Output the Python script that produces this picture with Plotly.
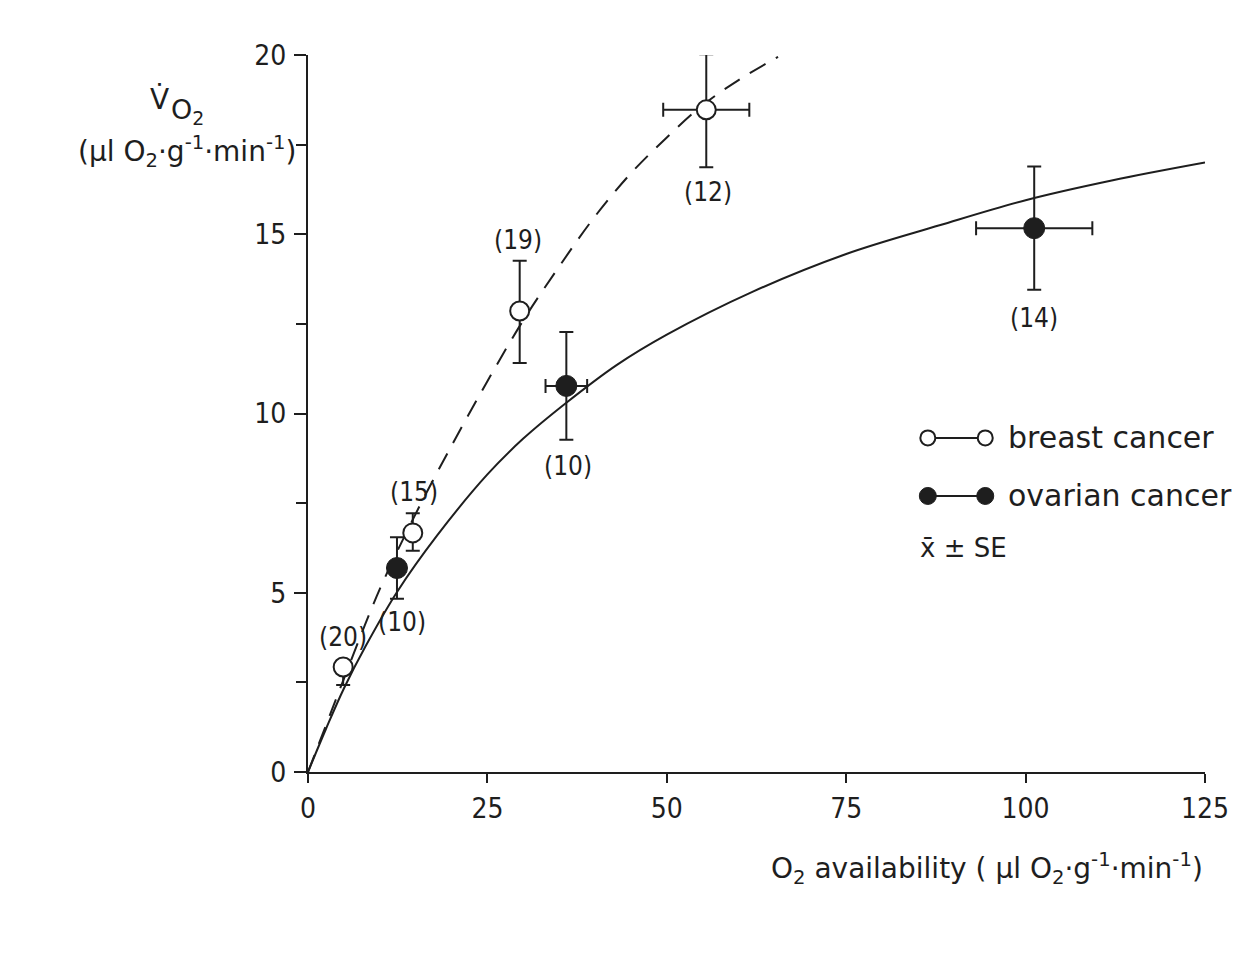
import plotly.graph_objects as go

# ---- data ----
breast_x = [4.9, 14.6, 29.5, 55.5]
breast_y = [2.93, 6.67, 12.86, 18.47]
breast_ey_plus = [0.0, 0.55, 1.4, 1.55]
breast_ey_minus = [0.5, 0.5, 1.45, 1.6]
breast_ex = [0.0, 0.0, 0.0, 6.0]
breast_n = ["(20)", "(15)", "(19)", "(12)"]

ovar_x = [12.4, 36.0, 101.2]
ovar_y = [5.69, 10.77, 15.17]
ovar_ey = [0.86, 1.5, 1.72]
ovar_ex = [0.0, 2.9, 8.1]
ovar_n = ["(10)", "(10)", "(14)"]

# fitted curves
solid_x = [0, 2.5, 5, 8, 12.5, 18, 25, 30, 36, 43, 50, 62, 75, 88, 100, 112, 125]
solid_y = [0, 1.2, 2.33, 3.5, 5.05, 6.6, 8.3, 9.3, 10.3, 11.35, 12.2, 13.4, 14.45, 15.25, 15.95, 16.5, 17.0]
dash_x = [0, 2.5, 5, 10, 15, 20, 25, 30, 35, 40, 45, 50, 55, 60, 65.5]
dash_y = [0, 1.3, 2.6, 5.1, 7.2, 9.1, 10.9, 12.6, 14.1, 15.5, 16.7, 17.7, 18.6, 19.3, 19.95]

x_ticks = [0, 25, 50, 75, 100, 125]
y_ticks = [0, 5, 10, 15, 20]

# label offsets in pixels (layout, not data)
breast_lab_shift = [(0, 30), (1, 41), (-2, 71), (2, -82)]
ovar_lab_shift = [(5, -54), (2, -80), (0, -90)]

FONT = "DejaVu Sans Condensed, Liberation Sans Narrow, DejaVu Sans, sans-serif"
FONT2 = "DejaVu Sans, sans-serif"
INK = "#1e1e1e"

fig = go.Figure()

fig.add_trace(go.Scatter(x=solid_x, y=solid_y, mode="lines", line=dict(color=INK, width=2, shape="spline"),
                         hoverinfo="skip", showlegend=False))
fig.add_trace(go.Scatter(x=dash_x, y=dash_y, mode="lines",
                         line=dict(color=INK, width=2, dash="18px,12px", shape="spline"),
                         hoverinfo="skip", showlegend=False))

fig.add_trace(go.Scatter(
    x=breast_x, y=breast_y, mode="markers",
    marker=dict(symbol="circle", size=19, color="white", line=dict(color=INK, width=2)),
    error_y=dict(type="data", symmetric=False, array=breast_ey_plus, arrayminus=breast_ey_minus,
                 color=INK, thickness=2, width=7),
    error_x=dict(type="data", array=breast_ex, color=INK, thickness=2, width=7),
    showlegend=False))

fig.add_trace(go.Scatter(
    x=ovar_x, y=ovar_y, mode="markers",
    marker=dict(symbol="circle", size=21, color=INK, line=dict(color=INK, width=1)),
    error_y=dict(type="data", array=ovar_ey, color=INK, thickness=2, width=7),
    error_x=dict(type="data", array=ovar_ex, color=INK, thickness=2, width=7),
    showlegend=False))

for x, y, t, (dx, dy) in zip(breast_x, breast_y, breast_n, breast_lab_shift):
    fig.add_annotation(x=x, y=y, text=t, showarrow=False, xshift=dx, yshift=dy,
                       xanchor="center", yanchor="middle",
                       font=dict(family=FONT, size=26, color=INK))
for x, y, t, (dx, dy) in zip(ovar_x, ovar_y, ovar_n, ovar_lab_shift):
    fig.add_annotation(x=x, y=y, text=t, showarrow=False, xshift=dx, yshift=dy,
                       xanchor="center", yanchor="middle",
                       font=dict(family=FONT, size=26, color=INK))

# legend glyphs on an overlay axis (fractions of the plot area)
leg_x = [0.691, 0.755]
fig.add_trace(go.Scatter(x=leg_x, y=[0.466, 0.466], xaxis="x2", yaxis="y2", mode="lines+markers",
                         line=dict(color=INK, width=2),
                         marker=dict(size=15, color="white", line=dict(color=INK, width=2)),
                         hoverinfo="skip", showlegend=False))
fig.add_trace(go.Scatter(x=leg_x, y=[0.385, 0.385], xaxis="x2", yaxis="y2", mode="lines+markers",
                         line=dict(color=INK, width=2),
                         marker=dict(size=17, color=INK, line=dict(color=INK, width=1)),
                         hoverinfo="skip", showlegend=False))

for t, x, y, s in [("breast cancer", 0.778, 0.466, 30), ("ovarian cancer", 0.778, 0.385, 30),
                   ("x̄ ± SE", 0.680, 0.312, 26)]:
    fig.add_annotation(xref="x2", yref="y2", x=x, y=y, text=t, showarrow=False,
                       xanchor="left", yanchor="middle",
                       font=dict(family=FONT2, size=s, color=INK))

# axis titles
fig.add_annotation(xref="paper", yref="paper", x=-0.165, y=0.938, text="V̇", showarrow=False,
                   xanchor="center", yanchor="middle",
                   font=dict(family=FONT2, size=28, color=INK))
fig.add_annotation(xref="paper", yref="paper", x=-0.1545, y=0.921, text="O<sub>2</sub>", showarrow=False,
                   xanchor="left", yanchor="middle",
                   font=dict(family=FONT2, size=27, color=INK))
fig.add_annotation(xref="paper", yref="paper", x=-0.135, y=0.866,
                   text="(µl O<sub>2</sub>·g<sup>-1</sup>·min<sup>-1</sup>)", showarrow=False,
                   xanchor="center", yanchor="middle",
                   font=dict(family=FONT2, size=28, color=INK))
fig.add_annotation(xref="paper", yref="paper", x=1.0, y=-0.135, xanchor="right", yanchor="middle",
                   text="O<sub>2</sub> availability ( µl O<sub>2</sub>·g<sup>-1</sup>·min<sup>-1</sup>)",
                   showarrow=False, font=dict(family=FONT2, size=28, color=INK))

fig.update_layout(
    width=1247, height=967,
    margin=dict(l=308, r=42, t=55, b=195),
    paper_bgcolor="white", plot_bgcolor="white",
    xaxis=dict(range=[0, 125], tickvals=x_ticks, showgrid=False, zeroline=False,
               showline=True, linecolor=INK, linewidth=2, ticks="outside", ticklen=9,
               tickwidth=2, tickcolor=INK, ticklabelstandoff=1,
               tickfont=dict(family=FONT, size=28, color=INK)),
    yaxis=dict(range=[0, 20], tickvals=y_ticks, showgrid=False, zeroline=False,
               showline=True, linecolor=INK, linewidth=2, ticks="outside", ticklen=12,
               tickwidth=2, tickcolor=INK, ticklabelstandoff=2,
               minor=dict(dtick=2.5, ticks="outside", ticklen=10, tickwidth=2, tickcolor=INK),
               tickfont=dict(family=FONT, size=28, color=INK)),
    xaxis2=dict(range=[0, 1], overlaying="x", visible=False, fixedrange=True),
    yaxis2=dict(range=[0, 1], overlaying="y", visible=False, fixedrange=True),
)

fig.write_html("out.html")
